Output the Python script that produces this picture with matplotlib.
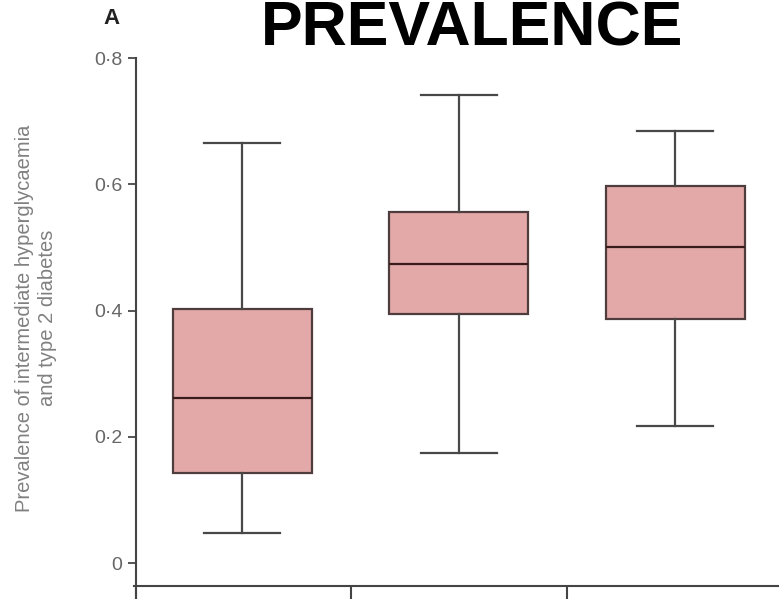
import matplotlib
matplotlib.use("Agg")
import matplotlib.pyplot as plt

# Data
groups = ["Group 1", "Group 2", "Group 3"]
whisker_low = [0.048, 0.174, 0.217]
q1 = [0.142, 0.394, 0.386]
median = [0.261, 0.473, 0.500]
q3 = [0.402, 0.556, 0.597]
whisker_high = [0.665, 0.741, 0.684]
ytick_vals = [0, 0.2, 0.4, 0.6, 0.8]
ytick_labels = ["0", "0·2", "0·4", "0·6", "0·8"]

W, H = 779, 599
fig = plt.figure(figsize=(W / 100, H / 100), dpi=100)
left_px, right_px = 134, 783.5
ax = fig.add_axes([left_px / W, 0, (right_px - left_px) / W, 1])

stats = []
for i, g in enumerate(groups):
    stats.append(dict(label=g, whislo=whisker_low[i], q1=q1[i], med=median[i],
                      q3=q3[i], whishi=whisker_high[i], fliers=[]))

edge = "#4f3d3d"
ax.bxp(stats, positions=range(len(groups)), widths=0.64, capwidths=0.35,
       patch_artist=True, showfliers=False,
       boxprops=dict(facecolor="#e3a9a9", edgecolor=edge, linewidth=1.6),
       medianprops=dict(color="#3a1c1c", linewidth=1.6),
       whiskerprops=dict(color="#484848", linewidth=1.6),
       capprops=dict(color="#484848", linewidth=1.6))

ax.set_xlim(-0.5, 2.5)
ax.set_ylim(-0.057, 0.892)

for s in ["top", "right"]:
    ax.spines[s].set_visible(False)
ax.spines["left"].set_bounds(-0.057, 0.8)
ax.spines["left"].set_linewidth(1.5)
ax.spines["left"].set_color("#444444")
ax.spines["left"].set_position(("data", -0.49))
ax.spines["bottom"].set_position(("data", -0.0364))
ax.spines["bottom"].set_linewidth(1.5)
ax.spines["bottom"].set_color("#444444")

ax.set_yticks(ytick_vals)
ax.set_yticklabels(ytick_labels, fontsize=14, color="#666666", family="Liberation Sans")
ax.tick_params(axis="y", direction="out", length=6, width=1.4, color="#555555", pad=4)
ax.set_xticks([-0.49, 0.5, 1.5, 2.5])
ax.set_xticklabels([])
ax.tick_params(axis="x", direction="out", length=10, width=1.5, color="#444444")

fig.text(36 / W, 1 - 318 / H,
         "Prevalence of intermediate hyperglycaemia\nand type 2 diabetes",
         rotation=90, ha="center", va="center", fontsize=14.5, color="#808080",
         family="Liberation Sans", linespacing=1.3, multialignment="center")

fig.text(111 / W, 1 - 19 / H, "A", ha="center", va="center", fontsize=16,
         fontweight="bold", color="#222222", family="Liberation Sans")

fig.text(472 / W, 1 - 45 / H, "PREVALENCE", ha="center", va="baseline",
         fontsize=45, fontweight="bold", color="black", family="Liberation Sans")

fig.savefig("out.png", dpi=100)
